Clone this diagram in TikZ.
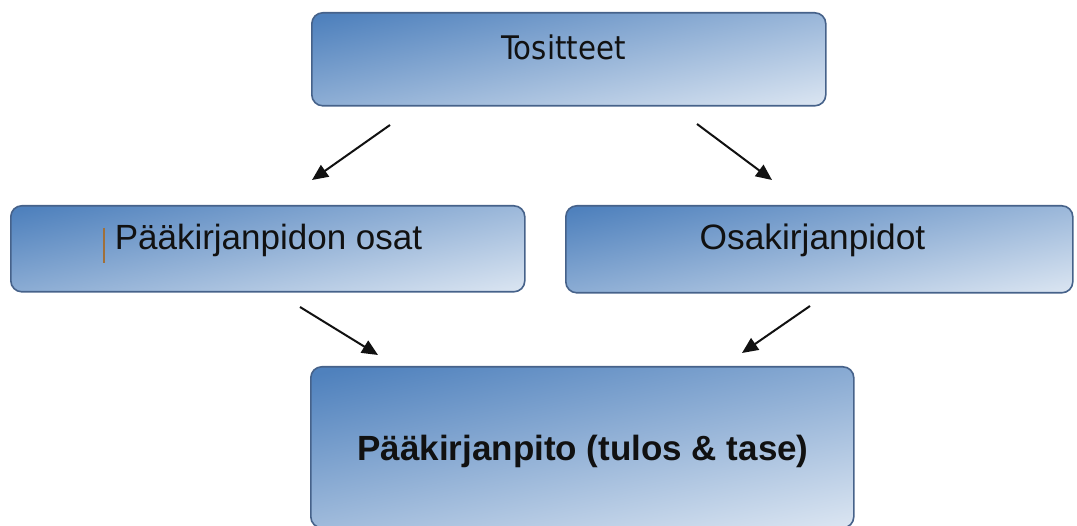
\documentclass[tikz,border=0pt]{standalone}
\usepackage{fontspec}
\setmainfont{Liberation Sans}
\newfontfamily\tahomalike{DejaVu Sans Condensed}
\usetikzlibrary{arrows.meta}
\definecolor{bdark}{RGB}{79,129,189}
\definecolor{blight}{RGB}{220,230,242}
\definecolor{bedge}{RGB}{70,98,138}
\definecolor{txt}{RGB}{17,17,17}
\definecolor{cursorc}{RGB}{160,112,58}
\pgfdeclarehorizontalshading{boxshade}{100bp}{color(0bp)=(bdark); color(22bp)=(bdark); color(80bp)=(blight); color(100bp)=(blight)}
\tikzset{
  box/.style={draw=bedge, line width=1.6pt, rounded corners=11pt, shading=boxshade, shading angle=-78, inner sep=0pt, anchor=north west},
  lbl/.style={anchor=base, text=txt, inner sep=0pt},
  conn/.style={draw=txt, line width=2pt, -{Triangle[length=16pt,width=14pt]}}
}
\begin{document}
\begin{tikzpicture}[x=1pt,y=-1pt]
\useasboundingbox (0,0) rectangle (1077,526);
\clip (0,0) rectangle (1077,526);
% boxes
\node[box, minimum width=514pt, minimum height=93pt] (tos) at (311,12) {};
\node[box, minimum width=514pt, minimum height=86pt] (pko) at (10,205) {};
\node[box, minimum width=507pt, minimum height=87pt] (oka) at (565,205) {};
\node[box, minimum width=543pt, minimum height=161pt] (pkp) at (310,366) {};
% labels
\node[lbl, font=\tahomalike\fontsize{32.5}{38}\selectfont] (tost) at (563.5,60) {Tositteet};
\node[lbl, font=\fontsize{35}{40}\selectfont] (pkot) at (268.5,250) {Pääkirjanpidon osat};
\node[lbl, font=\fontsize{35.3}{40}\selectfont] (okat) at (812.5,250) {Osakirjanpidot};
\node[lbl, font=\bfseries\fontsize{35}{40}\selectfont] (pkpt) at (583,461) {Pääkirjanpito (tulos \& tase)};
% text cursor mark
\draw[cursorc, line width=2.2pt] (104,228) -- (104,263);
% connectors
\coordinate (a1s) at (390,125); \coordinate (a1e) at (312,180);
\coordinate (a2s) at (697,124); \coordinate (a2e) at (772,180);
\coordinate (a3s) at (300,307); \coordinate (a3e) at (378,355);
\coordinate (a4s) at (810,306); \coordinate (a4e) at (742,353);
\draw[conn] (a1s) -- (a1e);
\draw[conn] (a2s) -- (a2e);
\draw[conn] (a3s) -- (a3e);
\draw[conn] (a4s) -- (a4e);
\end{tikzpicture}
\end{document}
